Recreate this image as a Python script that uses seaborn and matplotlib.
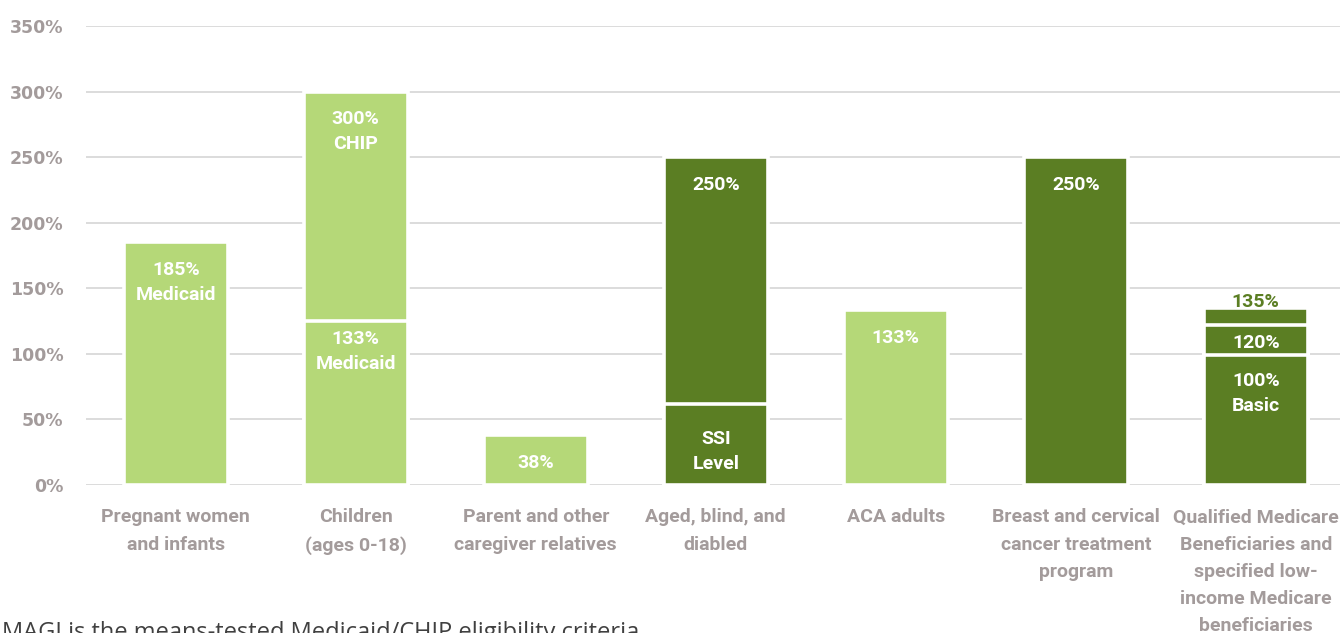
import matplotlib
matplotlib.use("Agg")
import matplotlib.pyplot as plt
import seaborn as sns
import pandas as pd
from matplotlib.ticker import FuncFormatter

# ---------------- data ----------------
categories = [
    "Pregnant women\nand infants",
    "Children\n(ages 0-18)",
    "Parent and other\ncaregiver relatives",
    "Aged, blind, and\ndiabled",
    "ACA adults",
    "Breast and cervical\ncancer treatment\nprogram",
    "Qualified Medicare\nBeneficiaries and\nspecified low-\nincome Medicare\nbeneficiaries",
]
# cumulative segment tops (percent of poverty level) per category
segment_tops = [
    [185],
    [125, 300],
    [38],
    [62, 250],
    [133],
    [250],
    [99, 122, 135],
]
# light = MAGI based, dark = non-MAGI
category_group = ["light", "light", "light", "dark", "light", "dark", "dark"]
# labels: (category index, segment index, text, placement)
labels = [
    (0, 0, "185%\nMedicaid", "in"),
    (1, 1, "300%\nCHIP", "in"),
    (1, 0, "133%\nMedicaid", "in_tight"),
    (2, 0, "38%", "in"),
    (3, 1, "250%", "in"),
    (3, 0, "SSI\nLevel", "in_low"),
    (4, 0, "133%", "in"),
    (5, 0, "250%", "in"),
    (6, 2, "135%", "above"),
    (6, 1, "120%", "in_tight"),
    (6, 0, "100%\nBasic", "in_mid"),
]
yticks = [0, 50, 100, 150, 200, 250, 300, 350]
footnote = "MAGI is the means-tested Medicaid/CHIP eligibility criteria"

# ---------------- style ----------------
LIGHT = "#B5D878"
DARK = "#5B7E23"
TICK_COLOR = "#A39B9B"
colors = {"light": LIGHT, "dark": DARK}
palette = {c: colors[g] for c, g in zip(categories, category_group)}
NARROW = ["Roboto", "DejaVu Sans"]

rows = []
for cat, tops in zip(categories, segment_tops):
    for lvl, t in enumerate(tops):
        rows.append({"category": cat, "level": lvl, "top": t})
df = pd.DataFrame(rows)

sns.set_theme(style="white")
fig = plt.figure(figsize=(13.4, 6.33), dpi=100)
ax = fig.add_axes([0.064, 0.234, 0.9403, 0.725])

for lvl in sorted(df["level"].unique(), reverse=True):
    sub = df[df["level"] == lvl]
    sns.barplot(data=sub, x="category", y="top", order=categories,
                hue="category", hue_order=categories, palette=palette,
                dodge=False, legend=False, width=0.575, ax=ax,
                edgecolor="white", linewidth=2.6, saturation=1, zorder=2)

ax.set_ylim(0, 350)
ax.set_xlim(-0.5, len(categories) - 0.5)
ax.set_yticks(yticks)
ax.yaxis.set_major_formatter(FuncFormatter(lambda v, p: f"{int(v)}%"))
ax.grid(axis="y", color="#D9D9D9", linewidth=1.3, zorder=0)
ax.set_axisbelow(True)
for s in ax.spines.values():
    s.set_visible(False)
ax.set_xlabel("")
ax.set_ylabel("")
ax.tick_params(axis="both", length=0)
ax.tick_params(axis="y", pad=16, labelsize=12.5, labelcolor=TICK_COLOR)
ax.tick_params(axis="x", pad=17, labelsize=14, labelcolor=TICK_COLOR)
for t in ax.get_yticklabels():
    t.set_fontweight("bold")
    t.set_family(["DejaVu Sans"])
for t in ax.get_xticklabels():
    t.set_fontweight("bold")
    t.set_family(NARROW)
    t.set_linespacing(1.65)
    t.set_va("top")

offsets = {"in": -13.5, "in_tight": -6.5, "in_mid": -12, "in_low": -19, "above": -2}
for ci, si, text, place in labels:
    top = segment_tops[ci][si]
    if place == "above":
        color = DARK
        va = "bottom"
    else:
        color = "white"
        va = "top"
    ax.annotate(text, xy=(ci, top), xytext=(0, offsets[place]),
                textcoords="offset points", ha="center", va=va,
                color=color, fontsize=14, fontweight="bold",
                family=NARROW, linespacing=1.5, zorder=5)

fig.text(0.0015, 1 - 621 / 633, footnote, ha="left", va="top",
         fontsize=17, color="#404040", family=["Open Sans", "DejaVu Sans"])

fig.savefig("out.png", dpi=100)
